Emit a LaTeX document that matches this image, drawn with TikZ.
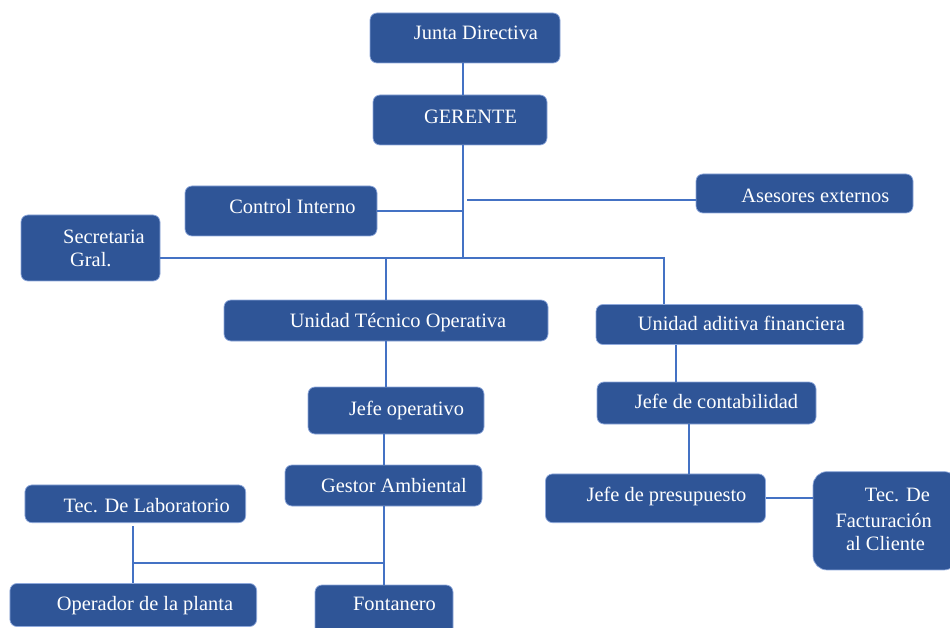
\documentclass[tikz,border=0pt]{standalone}
\usepackage{fontspec}
\setmainfont{Liberation Serif}
\definecolor{boxfill}{HTML}{2F5597}
\definecolor{boxedge}{HTML}{8FA9DC}
\definecolor{linkc}{HTML}{4472C4}
\tikzset{
  box/.style={draw=boxedge, line width=0.7pt, fill=boxfill, rounded corners=7pt, inner sep=0pt},
  txt/.style={text=white, inner sep=0pt, font=\fontsize{20.4}{24}\selectfont, yshift=-2pt},
  link/.style={draw=linkc, line width=2pt},
  thinlink/.style={draw=linkc, line width=1.3pt}
}
\begin{document}
\begin{tikzpicture}[x=1pt,y=-1pt]
\useasboundingbox (0,0) rectangle (950,628);
\clip (0,0) rectangle (950,628);
\fill[white] (0,0) rectangle (950,628);

% boxes
\node[box, minimum width=190, minimum height=50] (jd) at (465,38) {};
\node[box, minimum width=174, minimum height=50] (ger) at (460,120) {};
\node[box, minimum width=192, minimum height=50] (ci) at (281,211) {};
\node[box, minimum width=217, minimum height=39] (ase) at (804.5,193.5) {};
\node[box, minimum width=139, minimum height=66] (sec) at (90.5,248) {};
\node[box, minimum width=324, minimum height=41] (uto) at (386,320.5) {};
\node[box, minimum width=267, minimum height=40] (uaf) at (729.5,324.5) {};
\node[box, minimum width=219, minimum height=42] (jc) at (706.5,403) {};
\node[box, minimum width=220, minimum height=48.7] (jp) at (655.5,498.3) {};
\node[box, minimum width=145, minimum height=98.3, rounded corners=14pt] (tf) at (885.5,520.8) {};
\node[box, minimum width=176, minimum height=47] (jo) at (396,410.5) {};
\node[box, minimum width=197, minimum height=41] (ga) at (383.5,485.5) {};
\node[box, minimum width=220.7, minimum height=37.7] (tl) at (135.3,503.8) {};
\node[box, minimum width=246.7, minimum height=43] (op) at (133.3,605) {};
\node[box, minimum width=138, minimum height=54] (fo) at (384,612) {};

% texts
\node[txt, anchor=base] (jdT) at (476,38) {Junta Directiva};
\node[txt, anchor=base] (gerT) at (470.5,122) {GERENTE};
\node[txt, anchor=base] (ciT) at (292.5,212) {Control Interno};
\node[txt, anchor=base] (aseT) at (815.3,200.7) {Asesores externos};
\node[txt, anchor=base west] (secT1) at (63,241.7) {Secretaria};
\node[txt, anchor=base west] (secT2) at (70,265) {Gral.};
\node[txt, anchor=base] (utoT) at (398,325) {Unidad Técnico Operativa};
\node[txt, anchor=base] (uafT) at (741.5,328) {Unidad aditiva financiera};
\node[txt, anchor=base] (jcT) at (716.5,406.7) {Jefe de contabilidad};
\node[txt, anchor=base] (jpT) at (666.5,499.3) {Jefe de presupuesto};
\node[txt, anchor=base east] (tfT1) at (930,499) {Tec. De};
\node[txt, anchor=base east] (tfT2) at (932,525) {Facturación};
\node[txt, anchor=base east] (tfT3) at (925,548.3) {al Cliente};
\node[txt, anchor=base] (joT) at (406.5,413.3) {Jefe operativo};
\node[txt, anchor=base] (gaT) at (394,490.7) {Gestor Ambiental};
\node[txt, anchor=base] (tlT) at (146.7,510.7) {Tec. De Laboratorio};
\node[txt, anchor=base] (opT) at (145,608.3) {Operador de la planta};
\node[txt, anchor=base] (foT) at (394.5,608) {Fontanero};

% junction coordinates
\coordinate (trunk) at (463,258);
\coordinate (busR) at (664,258);
\coordinate (aseL) at (467,200);
\coordinate (labJ) at (133.3,563);
\coordinate (c1) at (676,0);
\coordinate (c2) at (689,0);

% connectors
\draw[link] (jd.south -| trunk) -- (ger.north -| trunk);
\draw[link] (ger.south -| trunk) -- (trunk);
\draw[link] (ci.east) -- (ci.east -| trunk);
\draw[thinlink] (aseL) -- (aseL -| ase.west);
\draw[link] (sec.east |- trunk) -- (busR) -- (busR |- uaf.north);
\draw[link] (uto.north |- trunk) -- (uto.north);
\draw[link] (uto.south) -- (uto.south |- jo.north);
\draw[link] (ga.north |- jo.south) -- (ga.north);
\draw[link] (ga.south) -- (ga.south |- fo.north);
\draw[link] (labJ) -- (labJ -| ga.south);
\draw[link] ([yshift=-3]labJ |- tl.south) -- (labJ |- op.north);
\draw[link] (c1 |- uaf.south) -- (c1 |- jc.north);
\draw[link] (c2 |- jc.south) -- (c2 |- jp.north);
\draw[link] (jp.east) -- (jp.east -| tf.west);
\end{tikzpicture}
\end{document}
